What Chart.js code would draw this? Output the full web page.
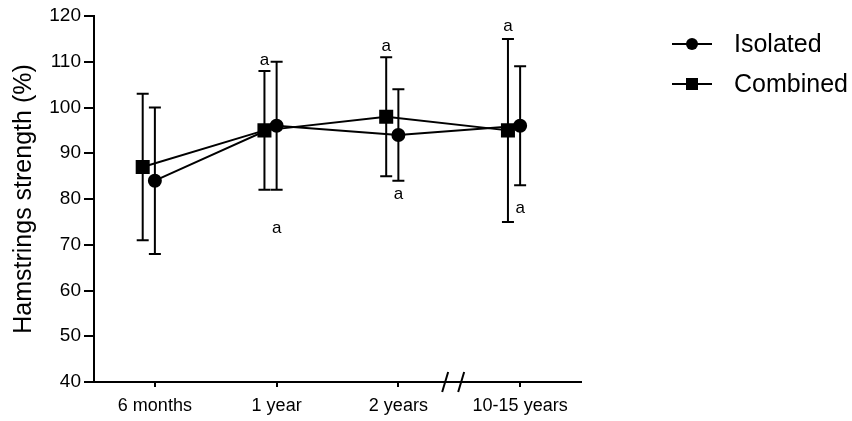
<!DOCTYPE html>
<html>
<head>
<meta charset="utf-8">
<script src="https://cdn.jsdelivr.net/npm/chart.js@4.4.0/dist/chart.umd.min.js"></script>
<style>
    html, body { margin: 0; padding: 0; background: #fff; }
    #wrap { width: 852px; height: 421px; }
</style>
</head>
<body>
<div id="wrap"><canvas id="chart" width="852" height="421"></canvas></div>
<script>
// Data
const categories = ['6 months', '1 year', '2 years', '10-15 years'];

const isolatedMean = [84, 96, 94, 96];
const isolatedLow = [68, 82, 84, 83];
const isolatedHigh = [100, 110, 104, 109];

const combinedMean = [87, 95, 98, 95];
const combinedLow = [71, 82, 85, 75];
const combinedHigh = [103, 108, 111, 115];

const yTicks = [40, 50, 60, 70, 80, 90, 100, 110, 120];

// "a" significance marks: category, series it belongs to, value where it sits
const markCategory = [1, 1, 2, 2, 3, 3];
const markSeries = ['Combined', 'Isolated', 'Combined', 'Isolated', 'Combined', 'Isolated'];
const markValue = [110.4, 73.5, 113.4, 81, 117.8, 77.9];

const FONT = "'Liberation Sans', Arial, sans-serif";
const COMBINED_SHIFT = -0.1;   // squares sit slightly left of the tick
const BREAK_AT = 2.45;         // axis break between 2 years and 10-15 years

function points(means, shift) {
    return means.map((v, i) => ({ x: i + shift, y: v }));
}

const datasets = [{
    label: 'Isolated',
    data: points(isolatedMean, 0),
    low: isolatedLow,
    high: isolatedHigh,
    shift: 0,
    borderColor: '#000',
    backgroundColor: '#000',
    borderWidth: 2,
    pointStyle: 'circle',
    pointRadius: 6,
    pointHoverRadius: 6,
    tension: 0
}, {
    label: 'Combined',
    data: points(combinedMean, COMBINED_SHIFT),
    low: combinedLow,
    high: combinedHigh,
    shift: COMBINED_SHIFT,
    borderColor: '#000',
    backgroundColor: '#000',
    borderWidth: 2,
    pointStyle: 'rect',
    pointRadius: 8.5,
    pointHoverRadius: 8.5,
    tension: 0
}];

// Error bars, drawn under the markers
const errorBars = {
    id: 'errorBars',
    beforeDatasetsDraw(chart) {
        const ctx = chart.ctx;
        const xs = chart.scales.x, ys = chart.scales.y;
        ctx.save();
        ctx.strokeStyle = '#000';
        ctx.lineWidth = 2;
        chart.data.datasets.forEach(ds => {
            ds.low.forEach((lo, i) => {
                const x = xs.getPixelForValue(i + ds.shift);
                const y1 = ys.getPixelForValue(lo);
                const y2 = ys.getPixelForValue(ds.high[i]);
                ctx.beginPath();
                ctx.moveTo(x, y1); ctx.lineTo(x, y2);
                ctx.moveTo(x - 6, y1); ctx.lineTo(x + 6, y1);
                ctx.moveTo(x - 6, y2); ctx.lineTo(x + 6, y2);
                ctx.stroke();
            });
        });
        ctx.restore();
    }
};

// "a" marks, axis break and legend
const decorations = {
    id: 'decorations',
    afterDraw(chart) {
        const ctx = chart.ctx;
        const xs = chart.scales.x, ys = chart.scales.y;
        ctx.save();
        ctx.fillStyle = '#000';
        ctx.font = '17px ' + FONT;
        ctx.textAlign = 'center';
        ctx.textBaseline = 'middle';
        markCategory.forEach((c, i) => {
            const shift = markSeries[i] === 'Combined' ? COMBINED_SHIFT : 0;
            ctx.fillText('a', xs.getPixelForValue(c + shift), ys.getPixelForValue(markValue[i]));
        });

        // axis break: two slashes
        const bx = xs.getPixelForValue(BREAK_AT);
        const by = chart.chartArea.bottom;
        ctx.strokeStyle = '#000';
        ctx.lineWidth = 2;
        ctx.beginPath();
        [-8, 8].forEach(d => {
            ctx.moveTo(bx + d - 3, by + 10);
            ctx.lineTo(bx + d + 3, by - 10);
        });
        ctx.stroke();

        // legend
        ctx.textAlign = 'left';
        ctx.font = '25px ' + FONT;
        chart.data.datasets.forEach((ds, i) => {
            const y = 44 + i * 40;
            ctx.beginPath();
            ctx.moveTo(672, y); ctx.lineTo(712, y);
            ctx.stroke();
            if (ds.pointStyle === 'circle') {
                ctx.beginPath();
                ctx.arc(692, y, 6, 0, Math.PI * 2);
                ctx.fill();
            } else {
                ctx.fillRect(686, y - 6, 12, 12);
            }
            ctx.fillText(ds.label, 734, y + 1);
        });
        ctx.restore();
    }
};

new Chart(document.getElementById('chart'), {
    type: 'line',
    data: { datasets: datasets },
    options: {
        responsive: false,
        devicePixelRatio: 1,
        animation: false,
        events: [],
        layout: { padding: { top: 16, right: 271, left: 0, bottom: 0 } },
        plugins: {
            legend: { display: false },
            tooltip: { enabled: false }
        },
        scales: {
            x: {
                type: 'linear',
                min: -0.5,
                max: 3.5,
                afterBuildTicks: axis => { axis.ticks = categories.map((c, i) => ({ value: i })); },
                afterFit: axis => { axis.height = 39; },
                ticks: {
                    callback: v => categories[v],
                    color: '#000',
                    font: { family: FONT, size: 18 },
                    padding: 8,
                    maxRotation: 0,
                    autoSkip: false
                },
                grid: { drawOnChartArea: false, drawTicks: true, tickLength: 5, color: '#000', lineWidth: 2 },
                border: { display: true, color: '#000', width: 2 }
            },
            y: {
                min: 40,
                max: 120,
                afterBuildTicks: axis => { axis.ticks = yTicks.map(v => ({ value: v })); },
                afterFit: axis => { axis.width = 94; },
                ticks: {
                    color: '#000',
                    font: { family: FONT, size: 19 },
                    padding: 3
                },
                grid: { drawOnChartArea: false, drawTicks: true, tickLength: 10, color: '#000', lineWidth: 2 },
                border: { display: true, color: '#000', width: 2 },
                title: {
                    display: true,
                    text: 'Hamstrings strength (%)',
                    color: '#000',
                    font: { family: FONT, size: 25 },
                    padding: { top: 9, bottom: 0 }
                }
            }
        }
    },
    plugins: [errorBars, decorations]
});
</script>
</body>
</html>
